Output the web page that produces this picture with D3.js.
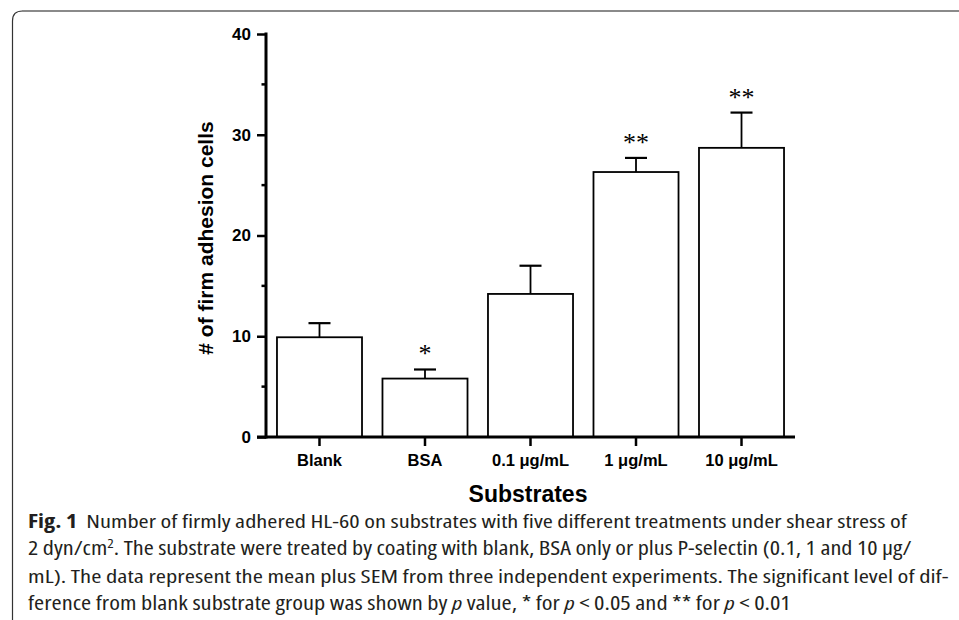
<!DOCTYPE html>
<html>
<head>
<meta charset="utf-8">
<script src="https://cdn.jsdelivr.net/npm/d3@7"></script>
<style>
  body { margin: 0; background: #fff; }
  svg { display: block; }
</style>
</head>
<body>
<div id="chart"></div>
<script>
// data
var categories = ["Blank", "BSA", "0.1 μg/mL", "1 μg/mL", "10 μg/mL"];
var means = [9.9, 5.8, 14.2, 26.3, 28.7];
var sems = [1.4, 0.9, 2.8, 1.4, 3.5];
var marks = ["", "*", "", "**", "**"];
var majorTicks = [0, 10, 20, 30, 40];
var minorTicks = [5, 15, 25, 35];

var width = 959, height = 620;
var svg = d3.select("#chart").append("svg")
    .attr("width", width)
    .attr("height", height);

// frame of the figure box (left edge + top edge with rounded corner)
svg.append("path")
    .attr("d", "M12.5,620 L12.5,21 Q12.5,11 22.5,11")
    .attr("fill", "none").attr("stroke", "#333").attr("stroke-width", 1.2);
svg.append("line")
    .attr("x1", 22).attr("x2", 959).attr("y1", 11).attr("y2", 11)
    .attr("stroke", "#8a8a8a").attr("stroke-width", 2);

var x0 = 266, x1 = 795, y0 = 437, y1 = 34;
var x = d3.scaleBand().domain(categories).range([x0, x1])
    .paddingInner(0.194).paddingOuter(0.104);
var y = d3.scaleLinear().domain([0, 40]).range([y0, y1]);

var g = svg.append("g");

// bars
g.selectAll("rect.bar").data(categories).enter().append("rect")
    .attr("class", "bar")
    .attr("x", function (d) { return x(d); })
    .attr("y", function (d, i) { return y(means[i]); })
    .attr("width", x.bandwidth())
    .attr("height", function (d, i) { return y(0) - y(means[i]); })
    .attr("fill", "#fff").attr("stroke", "#000").attr("stroke-width", 1.8);

// error bars (mean + SEM only)
var cap = 11;
categories.forEach(function (d, i) {
    var cx = x(d) + x.bandwidth() / 2;
    var top = y(means[i] + sems[i]);
    g.append("line").attr("x1", cx).attr("x2", cx)
        .attr("y1", y(means[i])).attr("y2", top)
        .attr("stroke", "#000").attr("stroke-width", 1.8);
    g.append("line").attr("x1", cx - cap).attr("x2", cx + cap)
        .attr("y1", top).attr("y2", top)
        .attr("stroke", "#000").attr("stroke-width", 2.2);
    if (marks[i]) {
        g.append("text").attr("x", cx).attr("y", top - 7)
            .attr("text-anchor", "middle")
            .style("font-family", "'Liberation Serif', 'Times New Roman', serif")
            .style("font-size", "26px")
            .text(marks[i]);
    }
});

// y axis
var yAxis = d3.axisLeft(y).tickValues(majorTicks).tickSize(9).tickPadding(6);
var ya = svg.append("g").attr("transform", "translate(" + x0 + ",0)").call(yAxis);
minorTicks.forEach(function (t) {
    ya.append("line").attr("x1", -4.5).attr("x2", 0)
        .attr("y1", y(t)).attr("y2", y(t))
        .attr("stroke", "#000").attr("stroke-width", 2.5);
});
ya.select(".domain").attr("stroke-width", 3).attr("d", "M0," + (y0 + 1.5) + "V" + (y1 - 1.5));
ya.selectAll(".tick line").attr("stroke-width", 2.5);
ya.selectAll(".tick text")
    .style("font-family", "'Liberation Sans', Arial, sans-serif")
    .style("font-weight", "bold").style("font-size", "17px").attr("fill", "#000");

// x axis
var xAxis = d3.axisBottom(x).tickSize(9).tickPadding(8);
var xa = svg.append("g").attr("transform", "translate(0," + y0 + ")").call(xAxis);
xa.select(".domain").attr("stroke-width", 3).attr("d", "M" + (x0 - 9) + ",0H" + x1);
xa.selectAll(".tick line").attr("stroke-width", 2.5);
xa.selectAll(".tick text")
    .style("font-family", "'Liberation Sans', Arial, sans-serif")
    .style("font-weight", "bold").style("font-size", "16.5px").attr("fill", "#000");

// axis titles
svg.append("text")
    .attr("x", 528).attr("y", 502)
    .attr("text-anchor", "middle")
    .style("font-family", "'Liberation Sans', Arial, sans-serif")
    .style("font-weight", "bold").style("font-size", "23px")
    .text("Substrates");
svg.append("text")
    .attr("transform", "translate(213,238) rotate(-90)")
    .attr("text-anchor", "middle")
    .style("font-family", "'Liberation Sans', Arial, sans-serif")
    .style("font-weight", "bold").style("font-size", "21px")
    .text("# of firm adhesion cells");

// caption: each line set condensed, then fitted to the measured line width
var capFont = "'Open Sans', 'Noto Sans', sans-serif";
var capLines = [
    { y: 528, w: 881, parts: [["Fig. 1", "b"], ["\u00a0\u00a0Number of firmly adhered HL-60 on substrates with five different treatments under shear stress of", ""]] },
    { y: 555, w: 884, parts: [["2 dyn/cm", ""], ["2", "sup"], [". The substrate were treated by coating with blank, BSA only or plus P-selectin (0.1, 1 and 10 μg/", "back"]] },
    { y: 583, w: 921, parts: [["mL). The data represent the mean plus SEM from three independent experiments. The significant level of dif-", ""]] },
    { y: 610, w: 763, parts: [["ference from blank substrate group was shown by ", ""], ["p", "i"], [" value, * for ", ""], ["p", "i"], [" < 0.05 and ** for ", ""], ["p", "i"], [" < 0.01", ""]] }
];
capLines.forEach(function (ln) {
    var t = svg.append("text")
        .attr("x", 0).attr("y", 0)
        .style("font-family", capFont).style("font-size", "19px")
        .style("font-stretch", "condensed")
        .attr("fill", "#231f20");
    ln.parts.forEach(function (p) {
        var s = t.append("tspan").text(p[0]);
        if (p[1] === "b") s.style("font-weight", "bold");
        if (p[1] === "i") s.style("font-style", "italic");
        if (p[1] === "sup") s.attr("dy", -7).style("font-size", "12px");
        if (p[1] === "back") s.attr("dy", 7);
    });
    var w0 = t.node().getBBox().width;
    t.attr("transform", "translate(28," + ln.y + ") scale(" + (ln.w / w0) + ",1)");
});
</script>
</body>
</html>
